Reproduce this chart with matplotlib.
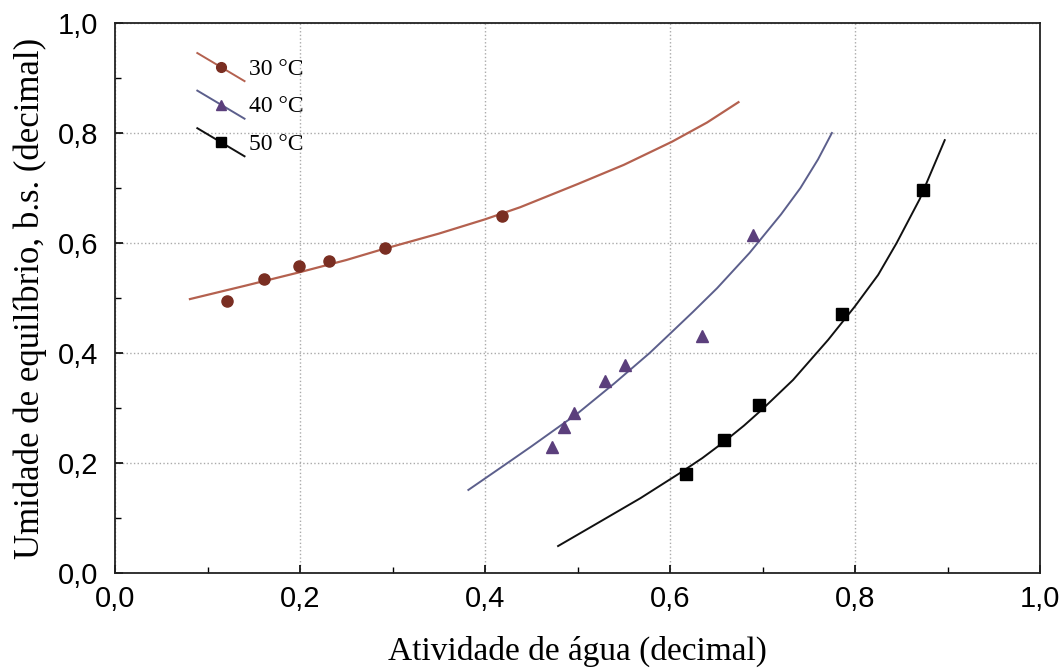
import numpy as np
import matplotlib
matplotlib.use("Agg")
import matplotlib.pyplot as plt
from matplotlib.lines import Line2D
from matplotlib.legend_handler import HandlerLine2D
from matplotlib.ticker import MultipleLocator, FuncFormatter

# measured points (aw, Xe)
aw_30 = [0.121, 0.161, 0.199, 0.231, 0.292, 0.418]
xe_30 = [0.495, 0.535, 0.558, 0.567, 0.591, 0.649]
aw_40 = [0.472, 0.485, 0.496, 0.530, 0.551, 0.635, 0.690]
xe_40 = [0.229, 0.265, 0.291, 0.349, 0.378, 0.431, 0.615]
aw_50 = [0.617, 0.658, 0.696, 0.786, 0.874]
xe_50 = [0.180, 0.242, 0.305, 0.471, 0.696]

# fitted curves
fit_aw_30 = [0.081, 0.14, 0.20, 0.25, 0.286, 0.35, 0.40, 0.438, 0.50, 0.55, 0.602, 0.64, 0.674]
fit_xe_30 = [0.498, 0.522, 0.547, 0.569, 0.587, 0.617, 0.643, 0.665, 0.707, 0.742, 0.784, 0.819, 0.856]
fit_aw_40 = [0.382, 0.42, 0.45, 0.50, 0.54, 0.578, 0.60, 0.625, 0.651, 0.686, 0.72, 0.741, 0.76, 0.775]
fit_xe_40 = [0.151, 0.195, 0.23, 0.29, 0.345, 0.40, 0.435, 0.475, 0.518, 0.582, 0.652, 0.70, 0.752, 0.80]
fit_aw_50 = [0.479, 0.52, 0.568, 0.611, 0.635, 0.658, 0.68, 0.70, 0.733, 0.771, 0.80, 0.825, 0.845, 0.87, 0.897]
fit_xe_50 = [0.049, 0.089, 0.136, 0.182, 0.209, 0.238, 0.268, 0.298, 0.351, 0.424, 0.485, 0.542, 0.60, 0.68, 0.787]

labels = ["30 °C", "40 °C", "50 °C"]


class DiagHandler(HandlerLine2D):
    # legend key drawn as a slanted line with the marker in the middle
    def create_artists(self, legend, orig_handle, xdescent, ydescent,
                       width, height, fontsize, trans):
        x0, x1 = -xdescent, width - xdescent
        y0, y1 = height * 1.3, -height * 0.4
        ln = Line2D([x0, x1], [y0, y1], color=orig_handle.get_color(),
                    lw=orig_handle.get_linewidth())
        mk = Line2D([(x0 + x1) / 2], [(y0 + y1) / 2], linestyle='none',
                    marker=orig_handle.get_marker(),
                    markersize=orig_handle.get_markersize(),
                    color=orig_handle.get_markerfacecolor())
        ln.set_transform(trans)
        mk.set_transform(trans)
        return [ln, mk]


fig = plt.figure(figsize=(10.62, 6.70), dpi=100)
ax = fig.add_axes([0.1083, 0.1448, 0.8710, 0.8209])

line_cols = ['#b4614f', '#5c5f8c', '#111111']
mk_cols = ['#7a2e22', '#5b3f7c', '#000000']
markers = ['o', '^', 's']

ax.plot(fit_aw_30, fit_xe_30, color=line_cols[0], lw=1.6)
ax.plot(fit_aw_40, fit_xe_40, color=line_cols[1], lw=1.4)
ax.plot(fit_aw_50, fit_xe_50, color=line_cols[2], lw=1.4)

ax.plot(aw_30, xe_30, 'o', color=mk_cols[0], ms=8, zorder=3)
ax.plot(aw_40, xe_40, '^', color=mk_cols[1], ms=8, zorder=3)
ax.plot(aw_50, xe_50, 's', color=mk_cols[2], ms=8, zorder=3)

handles = [Line2D([], [], color=line_cols[i], lw=1.4, marker=markers[i],
                  markerfacecolor=mk_cols[i], markersize=7)
           for i in range(3)]
leg = ax.legend(handles, labels, loc='upper left', bbox_to_anchor=(0.066, 0.975),
                frameon=False, handlelength=2.0, handletextpad=0.2, labelspacing=0.68,
                prop={'family': 'Liberation Serif', 'size': 17},
                handler_map={Line2D: DiagHandler()})

ax.set_xlim(0, 1)
ax.set_ylim(0, 1)
ax.xaxis.set_major_locator(MultipleLocator(0.2))
ax.yaxis.set_major_locator(MultipleLocator(0.2))
ax.xaxis.set_minor_locator(MultipleLocator(0.1))
ax.yaxis.set_minor_locator(MultipleLocator(0.1))
fmt = FuncFormatter(lambda v, p: ("%.1f" % v).replace('.', ','))
ax.xaxis.set_major_formatter(fmt)
ax.yaxis.set_major_formatter(fmt)
ax.tick_params(which='both', direction='in', top=False, right=False)
ax.tick_params(which='major', length=6, width=1.2)
ax.tick_params(which='minor', length=4, width=1.0)
ax.tick_params(axis='x', pad=9)
ax.tick_params(axis='y', pad=12)
for lab in ax.get_xticklabels() + ax.get_yticklabels():
    lab.set_fontfamily('Liberation Sans')
    lab.set_fontsize(21)

ax.grid(True, which='major', linestyle=':', color='#aaaaaa', lw=1.0)
for s in ax.spines.values():
    s.set_linewidth(1.3)
    s.set_color('#222222')

ax.set_xlabel('Atividade de água (decimal)', family='Liberation Serif', fontsize=24, labelpad=16)
ax.set_ylabel('Umidade de equilíbrio, b.s. (decimal)', family='Liberation Serif', fontsize=25, labelpad=8)

fig.savefig('out.png', dpi=100)
